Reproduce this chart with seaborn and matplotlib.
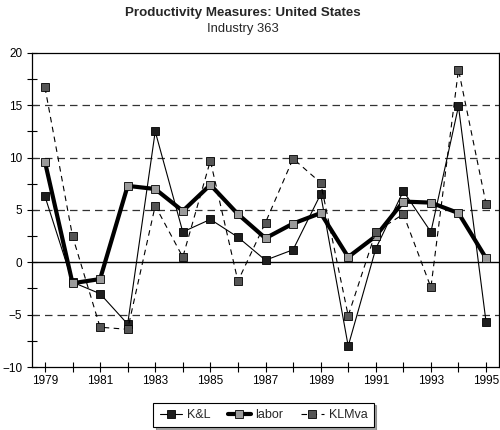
import numpy as np
import pandas as pd
import matplotlib
matplotlib.use("Agg")
import matplotlib.pyplot as plt
import seaborn as sns
from matplotlib.ticker import MultipleLocator

years = list(range(1979, 1996))
kl = [6.3, -1.9, -3.0, -5.9, 12.5, 2.9, 4.1, 2.4, 0.2, 1.2, 6.5, -8.0, 1.3, 6.8, 2.9, 14.9, -5.7]
labor = [9.6, -2.0, -1.6, 7.3, 7.0, 4.9, 7.4, 4.6, 2.3, 3.7, 4.7, 0.5, 2.5, 5.8, 5.7, 4.7, 0.4]
klmva = [16.7, 2.5, -6.2, -6.4, 5.4, 0.5, 9.7, -1.8, 3.8, 9.9, 7.6, -5.1, 2.9, 4.6, -2.4, 18.4, 5.6]

sns.set_style("white")
plt.rcParams['font.family'] = ['Liberation Sans', 'DejaVu Sans']

fig = plt.figure(figsize=(5, 4.3), dpi=100)
ax = fig.add_axes([0.064, 0.1465, 0.934, 0.7305])

# reference lines
for v in [15, 10, 5, -5]:
    ax.axhline(v, color='#333333', lw=0.9, ls=(0, (6, 4)), zorder=1)
ax.axhline(0, color='black', lw=1.0, zorder=1)

series = [
    ("K&L", kl, '#1e1e1e', 0.8, '-'),
    ("labor", labor, '#9a9a9a', 3.0, '-'),
    ("KLMva", klmva, '#555555', 0.8, (0, (5, 4))),
]
for name, vals, fc, lw, ls in series:
    sns.lineplot(x=years, y=vals, ax=ax, color='black', lw=lw, linestyle=ls,
                 marker='s', markersize=6, markerfacecolor=fc,
                 markeredgecolor='black', markeredgewidth=0.6, label=name, zorder=3)

ax.set_xlim(1978.53, 1995.47)
ax.set_ylim(-10, 20)
ax.set_xticks(range(1979, 1996, 2))
ax.xaxis.set_minor_locator(MultipleLocator(1))
ax.yaxis.set_major_locator(MultipleLocator(5))
ax.yaxis.set_minor_locator(MultipleLocator(2.5))
ax.tick_params(axis='both', which='both', direction='inout', length=7, width=0.8,
               labelsize=8.5, colors='black', bottom=True, left=True)
ax.tick_params(axis='x', pad=2)
for s in ax.spines.values():
    s.set_color('black')
    s.set_linewidth(0.9)
ax.set_xlabel("")
ax.set_ylabel("")

fig.text(0.485, 0.97, "Productivity Measures: United States", ha='center', va='center',
         fontsize=9.6, fontweight='bold')
fig.text(0.486, 0.933, "Industry 363", ha='center', va='center', fontsize=9.4)

leg = ax.legend(loc='center', bbox_to_anchor=(0.527, 0.035), bbox_transform=fig.transFigure,
                ncol=3, frameon=True, shadow=True, fancybox=False, fontsize=9,
                handlelength=1.8, handletextpad=0.4, columnspacing=1.4, borderpad=0.5)
leg.get_frame().set_edgecolor('black')
leg.get_frame().set_linewidth(0.8)

fig.savefig("out.png", dpi=100)
